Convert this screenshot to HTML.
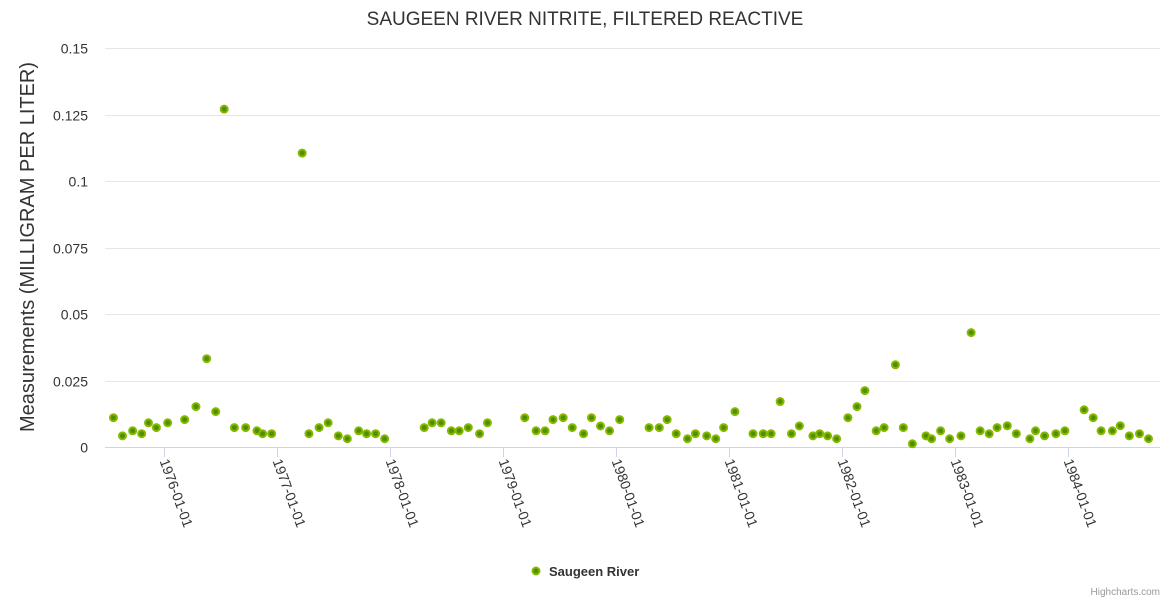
<!DOCTYPE html>
<html><head><meta charset="utf-8"><style>
body{margin:0;background:#fff;font-family:"Liberation Sans",sans-serif;}
svg text{font-family:"Liberation Sans",sans-serif;}
</style></head><body>
<svg id="chart" width="1170" height="600" xmlns="http://www.w3.org/2000/svg">
<rect width="1170" height="600" fill="#fff"/>
<text x="585" y="25" text-anchor="middle" font-size="19" fill="#333">SAUGEEN RIVER NITRITE, FILTERED REACTIVE</text>
<text transform="translate(34,247) rotate(-90)" text-anchor="middle" font-size="20" fill="#333">Measurements (MILLIGRAM PER LITER)</text>
<g id="grid"></g><g id="xaxis"></g><g id="points"></g>
<g>
<circle cx="536" cy="571" r="3.5" fill="#4c9200" stroke="#8ab800" stroke-width="2"/>
<text x="549" y="576" font-size="13" font-weight="bold" fill="#333">Saugeen River</text>
</g>
<text x="1160" y="595" text-anchor="end" font-size="10" fill="#999">Highcharts.com</text>
</svg>
<script>
const yTicks=[0,0.025,0.05,0.075,0.1,0.125,0.15];
const yTickLabels=["0","0.025","0.05","0.075","0.1","0.125","0.15"];
const xTickYears=[1976,1977,1978,1979,1980,1981,1982,1983,1984];
const dates=[1975.55,1975.63,1975.72,1975.80,1975.86,1975.93,1976.03,1976.18,1976.28,1976.375,1976.455,1976.53,1976.62,1976.72,1976.82,1976.87,1976.95,1977.22,1977.28,1977.37,1977.45,1977.54,1977.62,1977.72,1977.79,1977.87,1977.95,1978.30,1978.37,1978.45,1978.54,1978.61,1978.69,1978.79,1978.86,1979.19,1979.29,1979.37,1979.44,1979.53,1979.61,1979.71,1979.78,1979.86,1979.94,1980.03,1980.29,1980.38,1980.45,1980.53,1980.63,1980.70,1980.80,1980.88,1980.95,1981.05,1981.21,1981.30,1981.37,1981.45,1981.55,1981.62,1981.74,1981.80,1981.87,1981.95,1982.05,1982.13,1982.20,1982.30,1982.37,1982.47,1982.54,1982.62,1982.74,1982.79,1982.87,1982.95,1983.05,1983.14,1983.22,1983.30,1983.37,1983.46,1983.54,1983.66,1983.71,1983.79,1983.89,1983.97,1984.14,1984.22,1984.29,1984.39,1984.46,1984.54,1984.63,1984.71];
const values=[0.011,0.0042,0.0061,0.005,0.0091,0.0073,0.0091,0.0103,0.0152,0.0332,0.0133,0.127,0.0073,0.0073,0.0061,0.005,0.005,0.1105,0.005,0.0073,0.0091,0.0042,0.0031,0.0061,0.005,0.005,0.0031,0.0073,0.0091,0.0091,0.0061,0.0061,0.0073,0.005,0.0091,0.011,0.0061,0.0061,0.0103,0.011,0.0073,0.005,0.011,0.0079,0.0061,0.0103,0.0073,0.0073,0.0103,0.005,0.0031,0.005,0.0042,0.0031,0.0073,0.0133,0.005,0.005,0.005,0.0171,0.005,0.0079,0.0042,0.005,0.0042,0.0031,0.011,0.0152,0.0212,0.0061,0.0073,0.0309,0.0073,0.0012,0.0042,0.0031,0.0061,0.0031,0.0042,0.043,0.0061,0.005,0.0073,0.008,0.005,0.0031,0.0061,0.0042,0.005,0.0061,0.014,0.011,0.0061,0.0061,0.008,0.0042,0.005,0.0031];
const NS="http://www.w3.org/2000/svg";
const L=105,R=1160;
function xs(yr){return 164.3+(yr-1976)*113;}
function ys(v){return 447-v*2660;}
function mk(t,a,p){const e=document.createElementNS(NS,t);for(const k in a)e.setAttribute(k,a[k]);p.appendChild(e);return e;}
const grid=document.getElementById('grid');
yTicks.forEach((v,i)=>{
  const y=Math.round(ys(v))+0.5;
  const ln=mk('line',{x1:L,x2:R,y1:y,y2:y,stroke:i===0?'#ccd6eb':'#e6e6e6','stroke-width':1},grid);
  
  
  const t=mk('text',{x:88,y:y+5,'text-anchor':'end','font-size':14,fill:'#333'},grid);
  t.textContent=yTickLabels[i];
  
  
});
const xa=document.getElementById('xaxis');
xTickYears.forEach(yr=>{
  const x=Math.round(xs(yr))+0.5;
  const tk=mk('line',{x1:x,x2:x,y1:447,y2:457,stroke:'#ccd6eb','stroke-width':1},xa);
  
  
  const t=mk('text',{transform:`translate(${x-5},461) rotate(70)`,'font-size':14,fill:'#333'},xa);
  t.textContent=yr+'-01-01';
  
  
});
const pg=document.getElementById('points');
dates.forEach((d,i)=>{
  const c=mk('circle',{cx:xs(d),cy:ys(values[i]),r:3.5,fill:'#4c9200',stroke:'#8ab800','stroke-width':2},pg);
  
  
});
</script>
</body></html>
